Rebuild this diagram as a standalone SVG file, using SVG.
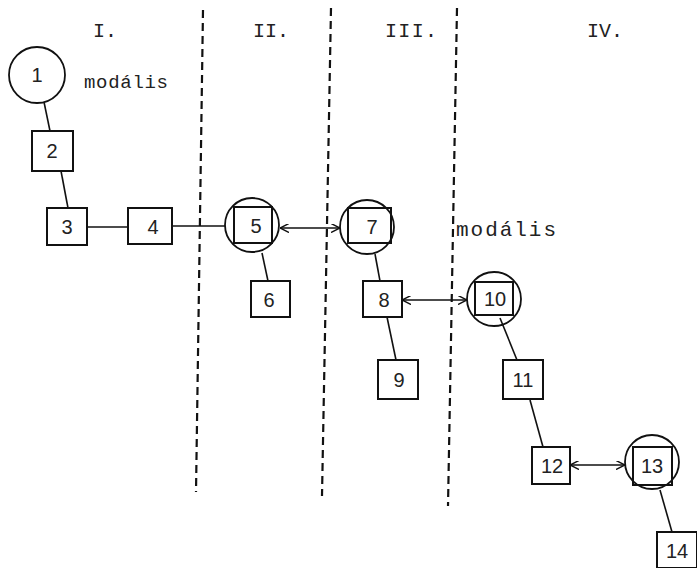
<svg xmlns="http://www.w3.org/2000/svg" width="697" height="568" viewBox="0 0 697 568">
<defs>
<marker id="ah" viewBox="0 0 10 10" refX="10" refY="5" markerWidth="9" markerHeight="9" markerUnits="userSpaceOnUse" orient="auto-start-reverse">
<path d="M0,0 L10,5 L0,10" fill="none" stroke="#111" stroke-width="1.6"/>
</marker>
<style>
.box{fill:#fff;stroke:#111;stroke-width:2}
.circ{fill:none;stroke:#111;stroke-width:1.8}
.num{font-family:"Liberation Sans",Arial,sans-serif;font-size:20px;fill:#222;text-anchor:middle}
.mono{font-family:"Liberation Mono","Courier New",monospace;fill:#222}
.ln{stroke:#111;stroke-width:1.6;fill:none}
.arr{stroke:#111;stroke-width:1.6;fill:none;marker-start:url(#ah);marker-end:url(#ah)}
.dash{stroke:#111;stroke-width:2.2;stroke-dasharray:8,5;fill:none}
</style>
</defs>
<rect width="697" height="568" fill="#fff"/>
<g id="dividers">
<line class="dash" x1="203" y1="10" x2="196" y2="492"/>
<line class="dash" x1="331" y1="8" x2="322" y2="496"/>
<line class="dash" x1="457" y1="8" x2="448" y2="506"/>
</g>
<g id="labels">
<text class="mono" x="93" y="37" font-size="20">I.</text>
<text class="mono" x="253" y="37" font-size="20">II.</text>
<text class="mono" x="385" y="37" font-size="20" textLength="52">III.</text>
<text class="mono" x="587" y="37" font-size="20">IV.</text>
<text class="mono" x="84" y="88" font-size="19" textLength="84">modális</text>
<text class="mono" x="456" y="236" font-size="21" textLength="100">modális</text>
</g>
<g id="connectors">
<line class="ln" x1="44" y1="102" x2="50" y2="131"/>
<line class="ln" x1="61" y1="171" x2="68" y2="208"/>
<line class="ln" x1="87" y1="227" x2="128" y2="227"/>
<line class="ln" x1="172" y1="226" x2="225" y2="226"/>
<line class="ln" x1="262" y1="253" x2="268" y2="281"/>
<line class="arr" x1="280" y1="228" x2="340" y2="228"/>
<line class="ln" x1="375" y1="254" x2="380" y2="281"/>
<line class="ln" x1="387" y1="317" x2="396" y2="360"/>
<line class="arr" x1="402" y1="300" x2="467" y2="300"/>
<line class="ln" x1="500" y1="318" x2="517" y2="360"/>
<line class="ln" x1="530" y1="400" x2="543" y2="447"/>
<line class="arr" x1="570" y1="465" x2="625" y2="465"/>
<line class="ln" x1="660" y1="490" x2="672" y2="532"/>
</g>
<g id="n1"><circle class="circ" cx="37" cy="75" r="28"/><text class="num" x="37" y="82">1</text></g>
<g id="n2"><rect class="box" x="32" y="131" width="41" height="40"/><text class="num" x="52" y="158">2</text></g>
<g id="n3"><rect class="box" x="47" y="208" width="40" height="37"/><text class="num" x="67" y="234">3</text></g>
<g id="n4"><rect class="box" x="128" y="208" width="44" height="36"/><text class="num" x="153" y="234">4</text></g>
<g id="n5"><rect class="box" x="234" y="207" width="38" height="36"/><circle class="circ" cx="252" cy="225" r="27"/><text class="num" x="256" y="233">5</text></g>
<g id="n6"><rect class="box" x="251" y="281" width="39" height="36"/><text class="num" x="269" y="307">6</text></g>
<g id="n7"><rect class="box" x="348" y="208" width="43" height="35"/><circle class="circ" cx="367" cy="227" r="27"/><text class="num" x="372" y="234">7</text></g>
<g id="n8"><rect class="box" x="363" y="281" width="39" height="36"/><text class="num" x="384" y="307">8</text></g>
<g id="n9"><rect class="box" x="378" y="360" width="40" height="39"/><text class="num" x="399" y="387">9</text></g>
<g id="n10"><rect class="box" x="475" y="282" width="38" height="33"/><circle class="circ" cx="494" cy="299" r="27"/><text class="num" x="495" y="306">10</text></g>
<g id="n11"><rect class="box" x="503" y="360" width="40" height="39"/><text class="num" x="523" y="387">11</text></g>
<g id="n12"><rect class="box" x="532" y="447" width="38" height="37"/><text class="num" x="552" y="473">12</text></g>
<g id="n13"><rect class="box" x="633" y="447" width="39" height="38"/><circle class="circ" cx="652" cy="462" r="27"/><text class="num" x="652" y="473">13</text></g>
<g id="n14"><rect class="box" x="657" y="532" width="40" height="36"/><text class="num" x="677" y="558">14</text></g>
</svg>
